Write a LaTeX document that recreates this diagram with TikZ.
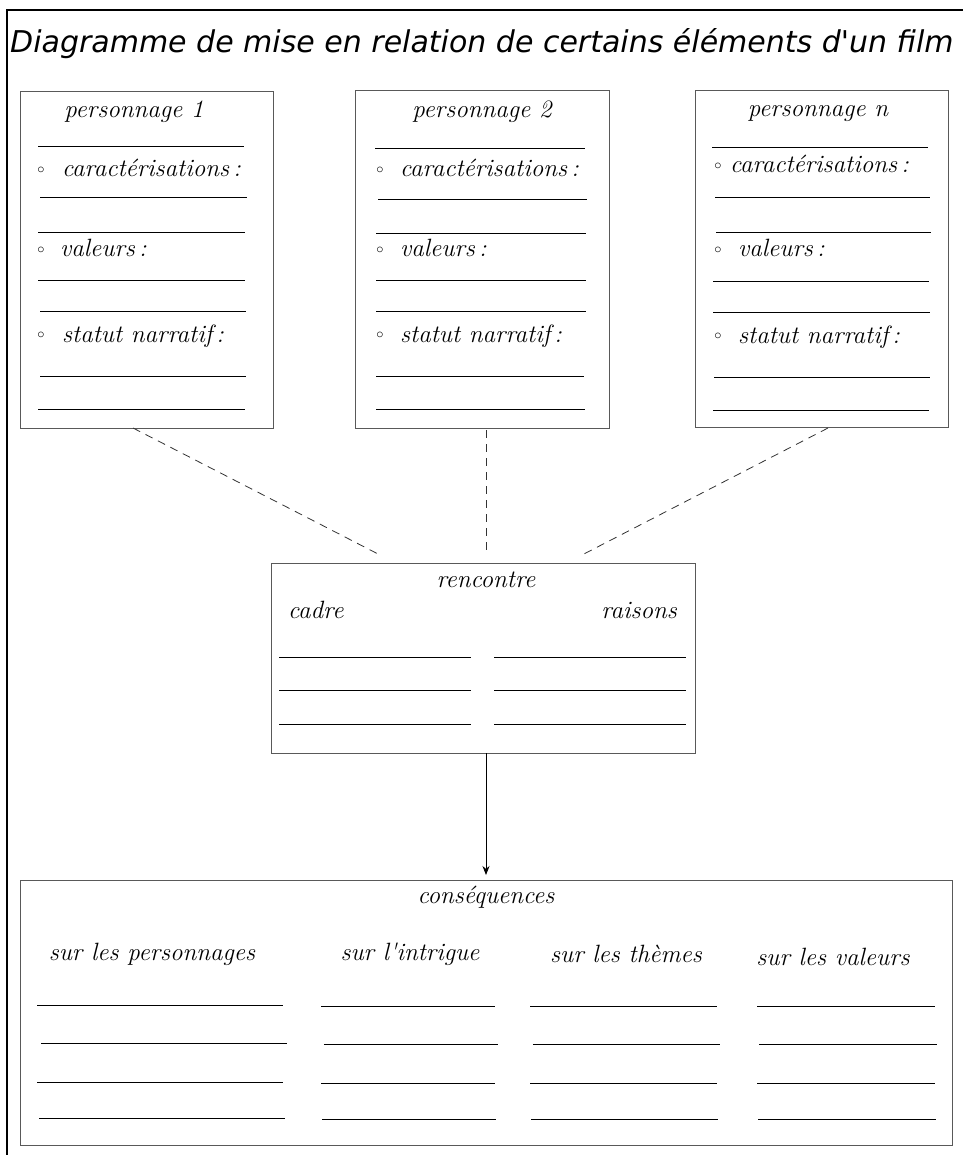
\documentclass[tikz,border=0pt]{standalone}
\usepackage{fontspec}
\usepackage{graphicx}
\newfontfamily\titlefont{DejaVu Sans}
\usetikzlibrary{arrows.meta}
\tikzset{
  box/.style={draw=black!65, line width=0.9pt},
  rule/.style={draw=black, line width=0.9pt},
  lbl/.style={font=\fontsize{25}{27}\selectfont\itshape, inner sep=0pt, anchor=base},
  txt/.style={lbl, anchor=base west},
  bul/.style={inner sep=0pt, anchor=center, font=\fontsize{14}{14}\selectfont},
  conn/.style={draw=black!80, line width=0.8pt, dash pattern=on 8pt off 6pt},
}
\begin{document}
\begin{tikzpicture}[x=1pt,y=-1pt]
\useasboundingbox (0,0) rectangle (962,1155);
% outer frame (left and top)
\draw[line width=1.2pt] (7,1160) -- (7,10) -- (970,10);
\node[anchor=base west, inner sep=0pt, font=\titlefont\fontsize{30}{32}\selectfont\itshape] (title) at (10,53) {Diagramme de mise en relation de certains éléments d'un film};

% box 1
\draw[box] (20,91) rectangle (273,428);
\coordinate (p1s) at (133,428);
\node[lbl] (p1t) at (134,118) {personnage 1};
\node[bul] (p1ab) at (41,170) {$\circ$};
\node[txt] (p1a) at (62,177) {caractérisations\,:};
\node[bul] (p1bb) at (41,250) {$\circ$};
\node[txt] (p1b) at (60,257) {valeurs\,:};
\node[bul] (p1cb) at (41,335) {$\circ$};
\node[txt] (p1c) at (62,342) {statut narratif\,:};
\foreach \y/\a/\b in {146/38/244, 197/40/247, 232/38/245, 280/38/245, 311/40/246, 376/40/246, 409/38/245}
  \draw[rule] (\a,\y) -- (\b,\y);

% box 2
\draw[box] (355,90) rectangle (609,428);
\coordinate (p2s) at (486,430);
\node[lbl] (p2t) at (482,118) {personnage 2};
\node[bul] (p2ab) at (380,170) {$\circ$};
\node[txt] (p2a) at (400,177) {caractérisations\,:};
\node[bul] (p2bb) at (380,250) {$\circ$};
\node[txt] (p2b) at (400,257) {valeurs\,:};
\node[bul] (p2cb) at (380,335) {$\circ$};
\node[txt] (p2c) at (400,342) {statut narratif\,:};
\foreach \y/\a/\b in {148/375/585, 199/378/587, 233/376/586, 280/376/586, 311/376/586, 376/376/584, 409/376/585}
  \draw[rule] (\a,\y) -- (\b,\y);

% box 3
\draw[box] (695,90) rectangle (948,427);
\coordinate (p3s) at (828,428);
\node[lbl] (p3t) at (818,117) {personnage n};
\node[bul] (p3ab) at (718,166) {$\circ$};
\node[txt] (p3a) at (730,173) {caractérisations\,:};
\node[bul] (p3bb) at (718,250) {$\circ$};
\node[txt] (p3b) at (738,257) {valeurs\,:};
\node[bul] (p3cb) at (718,336) {$\circ$};
\node[txt] (p3c) at (738,343) {statut narratif\,:};
\foreach \y/\a/\b in {147/712/928, 197/715/930, 232/716/931, 281/713/929, 312/713/930, 377/714/930, 410/713/929}
  \draw[rule] (\a,\y) -- (\b,\y);

% rencontre
\draw[box] (271,563) rectangle (695,753);
\coordinate (r1) at (380,555);
\coordinate (r2) at (486,552);
\coordinate (r3) at (580,556);
\coordinate (rb) at (486,753);
\node[lbl] (rt) at (486,587) {rencontre};
\node[lbl, anchor=base west] (rc) at (288,618) {cadre};
\node[lbl, anchor=base east] (rr) at (677,618) {raisons};
\foreach \y in {657,690,724} {
  \draw[rule] (279,\y) -- (471,\y);
  \draw[rule] (494,\y+0.5) -- (686,\y+0.5);
}

% dashed connectors
\draw[conn] (p1s) -- (r1);
\draw[conn] (p2s) -- (r2);
\draw[conn] (p3s) -- (r3);

% consequences
\draw[box] (20,880) rectangle (952,1145);
\coordinate (ct) at (486,875);
\draw[line width=0.8pt, -{Stealth[length=9pt,width=7pt]}] (rb) -- (ct);
\node[lbl] (cq) at (486,903) {conséquences};
\node[lbl] (c1) at (152,960) {sur les personnages};
\node[lbl] (c2) at (410,960) {sur l\textquotesingle intrigue};
\node[lbl] (c3) at (626,962) {sur les thèmes};
\node[lbl] (c4) at (833,965) {sur les valeurs};
\foreach \y/\d in {1005/0, 1043/4, 1082/0, 1118/2} {
  \draw[rule] (37+\d,\y) -- (283+\d,\y);
  \draw[rule] (321+\d*0.7,\y+1) -- (495+\d*0.7,\y+1);
  \draw[rule] (530+\d*0.7,\y+1) -- (717+\d*0.7,\y+1);
  \draw[rule] (757+\d*0.5,\y+1) -- (935+\d*0.5,\y+1);
}
\end{tikzpicture}
\end{document}
